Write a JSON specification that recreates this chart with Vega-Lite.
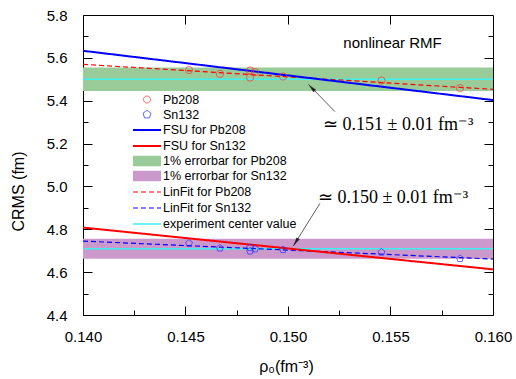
{
  "$schema": "https://vega.github.io/schema/vega-lite/v6.json",
  "width": 410,
  "height": 300,
  "autosize": {"type": "none"},
  "padding": {"left": 83, "top": 15, "right": 23, "bottom": 64},
  "background": "white",
  "config": {
    "font": "Liberation Sans",
    "view": {"stroke": "#000", "strokeWidth": 1},
    "axis": {"domain": false, "grid": false, "tickColor": "#000", "tickWidth": 1, "labelColor": "#000", "labelFontSize": 15, "labelFont": "Liberation Sans", "titleFont": "Liberation Sans", "titleFontSize": 16, "titleFontWeight": "normal", "titleColor": "#000"},
    "legend": {"symbolOpacity": 1}
  },
  "datasets": {
    "bands": [
      {"series": "1% errorbar for Pb208", "lo": 5.445, "hi": 5.555},
      {"series": "1% errorbar for Sn132", "lo": 4.662, "hi": 4.756}
    ],
    "lines": [
      {"series": "experiment center value", "nucleus": "Pb208", "x": 0.14, "y": 5.5},
      {"series": "experiment center value", "nucleus": "Pb208", "x": 0.16, "y": 5.5},
      {"series": "experiment center value", "nucleus": "Sn132", "x": 0.14, "y": 4.709},
      {"series": "experiment center value", "nucleus": "Sn132", "x": 0.16, "y": 4.709},
      {"series": "LinFit for Pb208", "nucleus": "Pb208", "x": 0.14, "y": 5.570},
      {"series": "LinFit for Pb208", "nucleus": "Pb208", "x": 0.16, "y": 5.453},
      {"series": "LinFit for Sn132", "nucleus": "Sn132", "x": 0.14, "y": 4.745},
      {"series": "LinFit for Sn132", "nucleus": "Sn132", "x": 0.16, "y": 4.661},
      {"series": "FSU for Pb208", "nucleus": "Pb208", "x": 0.14, "y": 5.633},
      {"series": "FSU for Pb208", "nucleus": "Pb208", "x": 0.16, "y": 5.403},
      {"series": "FSU for Sn132", "nucleus": "Sn132", "x": 0.14, "y": 4.808},
      {"series": "FSU for Sn132", "nucleus": "Sn132", "x": 0.16, "y": 4.613}
    ],
    "points": [
      {"nucleus": "Pb208", "rho": 0.14517, "r": 5.543},
      {"nucleus": "Pb208", "rho": 0.14668, "r": 5.525},
      {"nucleus": "Pb208", "rho": 0.14815, "r": 5.541},
      {"nucleus": "Pb208", "rho": 0.14815, "r": 5.508},
      {"nucleus": "Pb208", "rho": 0.14839, "r": 5.534},
      {"nucleus": "Pb208", "rho": 0.14976, "r": 5.513},
      {"nucleus": "Pb208", "rho": 0.15456, "r": 5.494},
      {"nucleus": "Pb208", "rho": 0.15839, "r": 5.459},
      {"nucleus": "Sn132", "rho": 0.14517, "r": 4.735},
      {"nucleus": "Sn132", "rho": 0.14668, "r": 4.712},
      {"nucleus": "Sn132", "rho": 0.14815, "r": 4.714},
      {"nucleus": "Sn132", "rho": 0.14815, "r": 4.698},
      {"nucleus": "Sn132", "rho": 0.14839, "r": 4.708},
      {"nucleus": "Sn132", "rho": 0.14976, "r": 4.705},
      {"nucleus": "Sn132", "rho": 0.15456, "r": 4.693},
      {"nucleus": "Sn132", "rho": 0.15839, "r": 4.663}
    ],
    "legendEntries": [
      {"series": "Pb208"},
      {"series": "Sn132"},
      {"series": "FSU for Pb208"},
      {"series": "FSU for Sn132"},
      {"series": "1% errorbar for Pb208"},
      {"series": "1% errorbar for Sn132"},
      {"series": "LinFit for Pb208"},
      {"series": "LinFit for Sn132"},
      {"series": "experiment center value"}
    ],
    "one": [{"k": 1}]
  },
  "resolve": {"axis": {"x": "independent", "y": "independent"}},
  "layer": [
    {
      "data": {"name": "legendEntries"},
      "transform": [{"filter": "false"}],
      "mark": {"type": "point"},
      "encoding": {
        "fill": {"field": "series", "type": "nominal",
          "legend": {"orient": "none", "legendX": 56, "legendY": 77, "title": null, "padding": 0, "rowPadding": 1.0, "labelOffset": 8, "labelFont": "Liberation Sans", "labelFontSize": 12.5, "labelColor": "#000", "symbolSize": 196, "symbolOpacity": 1, "symbolFillColor": "transparent", "symbolStrokeColor": "transparent"},
          "scale": {"domain": ["Pb208", "Sn132", "FSU for Pb208", "FSU for Sn132", "1% errorbar for Pb208", "1% errorbar for Sn132", "LinFit for Pb208", "LinFit for Sn132", "experiment center value"],
            "range": ["transparent", "transparent", "transparent", "transparent", "#99cc99", "#cc99cc", "transparent", "transparent", "transparent"]}},
        "stroke": {"field": "series", "type": "nominal",
          "legend": {"orient": "none", "legendX": 56, "legendY": 77, "title": null, "padding": 0, "rowPadding": 1.0, "labelOffset": 8, "labelFont": "Liberation Sans", "labelFontSize": 12.5, "labelColor": "#000", "symbolSize": 196, "symbolOpacity": 1, "symbolFillColor": "transparent", "symbolStrokeColor": "transparent"},
          "scale": {"domain": ["Pb208", "Sn132", "FSU for Pb208", "FSU for Sn132", "1% errorbar for Pb208", "1% errorbar for Sn132", "LinFit for Pb208", "LinFit for Sn132", "experiment center value"],
            "range": ["#ff3030", "#3030ff", "#0000ff", "#ff0000", "#99cc99", "#cc99cc", "#ff0000", "#0000ff", "#40f0f0"]}},
        "shape": {"field": "series", "type": "nominal",
          "legend": {"orient": "none", "legendX": 56, "legendY": 77, "title": null, "padding": 0, "rowPadding": 1.0, "labelOffset": 8, "labelFont": "Liberation Sans", "labelFontSize": 12.5, "labelColor": "#000", "symbolSize": 196, "symbolOpacity": 1, "symbolFillColor": "transparent", "symbolStrokeColor": "transparent"},
          "scale": {"domain": ["Pb208", "Sn132", "FSU for Pb208", "FSU for Sn132", "1% errorbar for Pb208", "1% errorbar for Sn132", "LinFit for Pb208", "LinFit for Sn132", "experiment center value"],
            "range": [
              "M0.5,0L0.462,0.191L0.354,0.354L0.191,0.462L0,0.5L-0.191,0.462L-0.354,0.354L-0.462,0.191L-0.5,0L-0.462,-0.191L-0.354,-0.354L-0.191,-0.462L0,-0.5L0.191,-0.462L0.354,-0.354L0.462,-0.191Z",
              "M0,-0.6L0.571,-0.185L0.353,0.485L-0.353,0.485L-0.571,-0.185Z",
              "M-2,0L2,0",
              "M-2,0.001L2,0.001",
              "M-2,-0.75L2,-0.75L2,0.75L-2,0.75Z",
              "M-2,-0.751L2,-0.751L2,0.751L-2,0.751Z",
              "M-2,0.002L2,0.002",
              "M-2,0.003L2,0.003",
              "M-2,0.004L2,0.004"
            ]}},
        "strokeDash": {"field": "series", "type": "nominal",
          "legend": {"orient": "none", "legendX": 56, "legendY": 77, "title": null, "padding": 0, "rowPadding": 1.0, "labelOffset": 8, "labelFont": "Liberation Sans", "labelFontSize": 12.5, "labelColor": "#000", "symbolSize": 196, "symbolOpacity": 1, "symbolFillColor": "transparent", "symbolStrokeColor": "transparent"},
          "scale": {"domain": ["Pb208", "Sn132", "FSU for Pb208", "FSU for Sn132", "1% errorbar for Pb208", "1% errorbar for Sn132", "LinFit for Pb208", "LinFit for Sn132", "experiment center value"],
            "range": [[1, 0], [1, 0], [1, 0], [1, 0], [1, 0], [1, 0], [5, 3], [5, 3], [1, 0]]}},
        "strokeWidth": {"field": "series", "type": "nominal",
          "legend": {"orient": "none", "legendX": 56, "legendY": 77, "title": null, "padding": 0, "rowPadding": 1.0, "labelOffset": 8, "labelFont": "Liberation Sans", "labelFontSize": 12.5, "labelColor": "#000", "symbolSize": 196, "symbolOpacity": 1, "symbolFillColor": "transparent", "symbolStrokeColor": "transparent"},
          "scale": {"type": "ordinal", "domain": ["Pb208", "Sn132", "FSU for Pb208", "FSU for Sn132", "1% errorbar for Pb208", "1% errorbar for Sn132", "LinFit for Pb208", "LinFit for Sn132", "experiment center value"],
            "range": [0.8, 0.8, 2, 2, 0, 0, 1.2, 1.2, 1.5]}}
      }
    },
    {
      "data": {"name": "bands"},
      "mark": {"type": "rect"},
      "encoding": {
        "x": {"datum": 0.14, "type": "quantitative", "scale": {"domain": [0.14, 0.16], "nice": false, "zero": false},
          "axis": {"orient": "bottom", "values": [0.14, 0.145, 0.15, 0.155, 0.16], "format": ".3f", "tickSize": -9, "labelPadding": 23, "labelFlush": false, "labelOverlap": false,
            "title": "ρ₀(fm⁻³)", "titleX": 203, "titleY": 56, "titleBaseline": "alphabetic", "titleAlign": "center"}},
        "x2": {"datum": 0.16},
        "y": {"field": "lo", "type": "quantitative", "scale": {"domain": [4.4, 5.8], "nice": false, "zero": false},
          "axis": {"orient": "left", "values": [4.4, 4.6, 4.8, 5.0, 5.2, 5.4, 5.6, 5.8], "format": ".1f", "tickSize": -9, "labelPadding": 25, "labelFlush": false, "labelOverlap": false,
            "title": "CRMS (fm)", "titleX": -60, "titleY": 176, "titleAngle": -90, "titleBaseline": "alphabetic", "titleAlign": "center"}},
        "y2": {"field": "hi"},
        "fill": {"field": "series", "type": "nominal",
          "scale": {"domain": ["Pb208", "Sn132", "FSU for Pb208", "FSU for Sn132", "1% errorbar for Pb208", "1% errorbar for Sn132", "LinFit for Pb208", "LinFit for Sn132", "experiment center value"],
            "range": ["transparent", "transparent", "transparent", "transparent", "#99cc99", "#cc99cc", "transparent", "transparent", "transparent"]}}
      }
    },
    {
      "data": {"name": "lines"},
      "mark": {"type": "line"},
      "encoding": {
        "x": {"field": "x", "type": "quantitative", "scale": {"domain": [0.14, 0.16], "nice": false, "zero": false},
          "axis": {"orient": "bottom", "values": [0.1425, 0.1475, 0.1525, 0.1575], "tickSize": -5, "labels": false, "title": null}},
        "y": {"field": "y", "type": "quantitative", "scale": {"domain": [4.4, 5.8], "nice": false, "zero": false},
          "axis": {"orient": "left", "values": [4.5, 4.7, 4.9, 5.1, 5.3, 5.5, 5.7], "tickSize": -5, "labels": false, "title": null}},
        "detail": {"field": "nucleus"},
        "stroke": {"field": "series", "type": "nominal",
          "scale": {"domain": ["Pb208", "Sn132", "FSU for Pb208", "FSU for Sn132", "1% errorbar for Pb208", "1% errorbar for Sn132", "LinFit for Pb208", "LinFit for Sn132", "experiment center value"],
            "range": ["#ff3030", "#3030ff", "#0000ff", "#ff0000", "#99cc99", "#cc99cc", "#ff0000", "#0000ff", "#40f0f0"]}},
        "strokeDash": {"field": "series", "type": "nominal",
          "scale": {"domain": ["Pb208", "Sn132", "FSU for Pb208", "FSU for Sn132", "1% errorbar for Pb208", "1% errorbar for Sn132", "LinFit for Pb208", "LinFit for Sn132", "experiment center value"],
            "range": [[1, 0], [1, 0], [1, 0], [1, 0], [1, 0], [1, 0], [5, 3], [5, 3], [1, 0]]}},
        "strokeWidth": {"field": "series", "type": "nominal",
          "scale": {"type": "ordinal", "domain": ["Pb208", "Sn132", "FSU for Pb208", "FSU for Sn132", "1% errorbar for Pb208", "1% errorbar for Sn132", "LinFit for Pb208", "LinFit for Sn132", "experiment center value"],
            "range": [0.8, 0.8, 2, 2, 0, 0, 1.2, 1.2, 1.5]}}
      }
    },
    {
      "data": {"name": "points"},
      "transform": [{"filter": "datum.nucleus == 'Pb208'"}],
      "mark": {"type": "point", "shape": "circle", "filled": false, "stroke": "#ff3030", "strokeWidth": 0.8, "size": 52, "opacity": 0.85},
      "encoding": {
        "x": {"field": "rho", "type": "quantitative", "scale": {"domain": [0.14, 0.16], "nice": false, "zero": false},
          "axis": {"orient": "top", "values": [0.145, 0.15, 0.155], "tickSize": -9, "labels": false, "title": null}},
        "y": {"field": "r", "type": "quantitative", "scale": {"domain": [4.4, 5.8], "nice": false, "zero": false},
          "axis": {"orient": "right", "values": [4.6, 4.8, 5.0, 5.2, 5.4, 5.6], "tickSize": -9, "labels": false, "title": null}}
      }
    },
    {
      "data": {"name": "points"},
      "transform": [{"filter": "datum.nucleus == 'Sn132'"}],
      "mark": {"type": "point", "shape": "M0,-1L0.951,-0.309L0.588,0.809L-0.588,0.809L-0.951,-0.309Z", "filled": false, "stroke": "#3030ff", "strokeWidth": 0.8, "size": 52, "opacity": 0.9},
      "encoding": {
        "x": {"field": "rho", "type": "quantitative", "axis": null},
        "y": {"field": "r", "type": "quantitative",
          "axis": {"orient": "right", "values": [4.5, 4.7, 4.9, 5.1, 5.3, 5.5, 5.7], "tickSize": -5, "labels": false, "title": null}}
      }
    },
    {
      "data": {"name": "one"},
      "mark": {"type": "rule", "stroke": "#333333", "strokeWidth": 0.8},
      "encoding": {
        "x": {"datum": 0.15229, "type": "quantitative", "axis": null},
        "y": {"datum": 5.349, "type": "quantitative", "axis": null},
        "x2": {"datum": 0.1510},
        "y2": {"datum": 5.476}
      }
    },
    {
      "data": {"name": "one"},
      "mark": {"type": "point", "shape": "M0,0L0.8,4L-0.8,4Z", "size": 20.25, "filled": true, "fill": "#222222", "strokeWidth": 0, "opacity": 1, "angle": 316},
      "encoding": {
        "x": {"datum": 0.1510, "type": "quantitative", "axis": null},
        "y": {"datum": 5.476, "type": "quantitative", "axis": null}
      }
    },
    {
      "data": {"name": "one"},
      "mark": {"type": "rule", "stroke": "#333333", "strokeWidth": 0.8},
      "encoding": {
        "x": {"datum": 0.15156, "type": "quantitative", "axis": null},
        "y": {"datum": 4.921, "type": "quantitative", "axis": null},
        "x2": {"datum": 0.15026},
        "y2": {"datum": 4.722}
      }
    },
    {
      "data": {"name": "one"},
      "mark": {"type": "point", "shape": "M0,0L0.8,4L-0.8,4Z", "size": 20.25, "filled": true, "fill": "#222222", "strokeWidth": 0, "opacity": 1, "angle": 212},
      "encoding": {
        "x": {"datum": 0.15026, "type": "quantitative", "axis": null},
        "y": {"datum": 4.722, "type": "quantitative", "axis": null}
      }
    },
    {
      "data": {"name": "one"},
      "mark": {"type": "text", "text": "nonlinear RMF", "font": "Liberation Sans", "fontSize": 15, "align": "center", "baseline": "middle", "color": "#000"},
      "encoding": {
        "x": {"datum": 0.1551, "type": "quantitative", "axis": null},
        "y": {"datum": 5.669, "type": "quantitative", "axis": null}
      }
    },
    {
      "data": {"name": "one"},
      "mark": {"type": "text", "text": "≃ 0.151 ± 0.01 fm⁻³", "font": "Liberation Serif", "fontSize": 18, "align": "left", "baseline": "middle", "color": "#000"},
      "encoding": {
        "x": {"datum": 0.15171, "type": "quantitative", "axis": null},
        "y": {"datum": 5.287, "type": "quantitative", "axis": null}
      }
    },
    {
      "data": {"name": "one"},
      "mark": {"type": "text", "text": "≃ 0.150 ± 0.01 fm⁻³", "font": "Liberation Serif", "fontSize": 18, "align": "left", "baseline": "middle", "color": "#000"},
      "encoding": {
        "x": {"datum": 0.15146, "type": "quantitative", "axis": null},
        "y": {"datum": 4.946, "type": "quantitative", "axis": null}
      }
    }
  ]
}
